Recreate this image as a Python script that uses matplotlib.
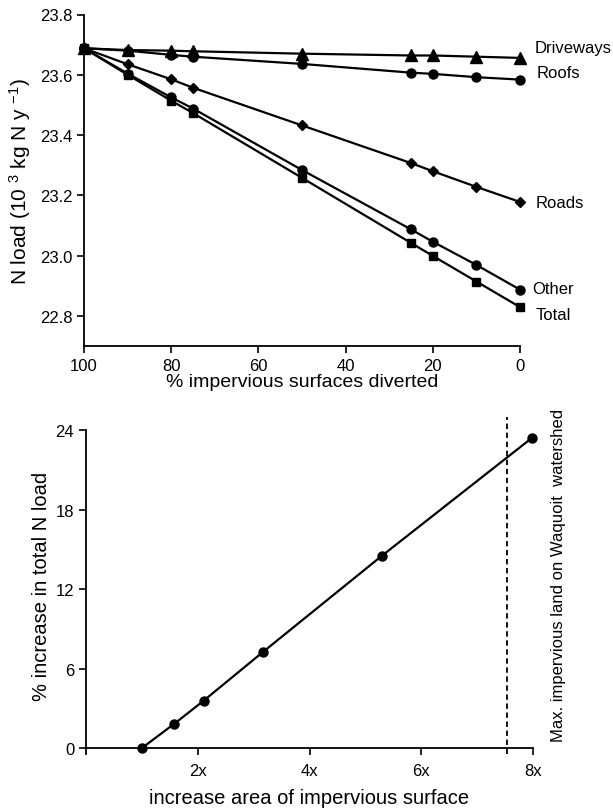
import matplotlib
matplotlib.use("Agg")
import matplotlib.pyplot as plt

plt.rcParams['font.family'] = ['Liberation Sans', 'DejaVu Sans']
plt.rcParams['mathtext.fontset'] = 'custom'
plt.rcParams['mathtext.rm'] = 'Liberation Sans'
plt.rcParams['mathtext.it'] = 'Liberation Sans'

# ---- top panel data ----
pct_diverted = [100, 90, 80, 75, 50, 25, 20, 10, 0]
driveways = [23.688, 23.682, 23.680, 23.678, 23.670, 23.664, 23.664, 23.660, 23.656]
roofs = [23.688, 23.680, 23.666, 23.660, 23.636, 23.607, 23.603, 23.592, 23.584]
roads = [23.688, 23.635, 23.585, 23.557, 23.432, 23.307, 23.280, 23.228, 23.178]
other = [23.688, 23.604, 23.525, 23.488, 23.284, 23.087, 23.046, 22.969, 22.887]
total = [23.688, 23.600, 23.514, 23.473, 23.258, 23.042, 22.999, 22.914, 22.829]
series_names = ["Driveways", "Roofs", "Roads", "Other", "Total"]

# ---- bottom panel data ----
area_increase = [1.0, 1.58, 2.11, 3.16, 5.29, 7.99]
pct_increase = [0.0, 1.83, 3.59, 7.23, 14.5, 23.45]
max_impervious = 7.54
x_ticks = [2, 4, 6, 8]
x_ticklabels = ["2x", "4x", "6x", "8x"]
y_ticks = [0, 6, 12, 18, 24]

fig = plt.figure(figsize=(6.13, 8.12), dpi=100)

ax1 = fig.add_axes([84/613, 1-347/812, (520-84)/613, (347-15.5)/812])
styles = [('^', 8), ('o', 6.5), ('D', 5), ('o', 6.5), ('s', 6)]
for ys, (m, ms) in zip([driveways, roofs, roads, other, total], styles):
    ax1.plot(pct_diverted, ys, color='black', lw=1.6, marker=m, ms=ms, clip_on=False, zorder=3)
ax1.set_xlim(100, 0)
ax1.set_ylim(22.7, 23.8)
ax1.set_xticks([100, 80, 60, 40, 20, 0])
ax1.set_yticks([22.8, 23.0, 23.2, 23.4, 23.6, 23.8])
ax1.set_yticklabels(["22.8", "23.0", "23.2", "23.4", "23.6", "23.8"])
for s in ['top', 'right']:
    ax1.spines[s].set_visible(False)
for s in ['left', 'bottom']:
    ax1.spines[s].set_linewidth(1.3)
ax1.tick_params(direction='out', length=5, width=1.2, labelsize=12)
ax1.set_xlabel("% impervious surfaces diverted", fontsize=14, labelpad=0)
ax1.set_ylabel(r"N load (10 $^{3}$ kg N y $^{-1}$)", fontsize=15, labelpad=5)

label_pos = [(535, 48, "Driveways"), (537, 73, "Roofs"), (536, 204, "Roads"), (532, 289, "Other"), (536, 315, "Total")]
for x, y, t in label_pos:
    fig.text(x/613, 1-y/812, t, fontsize=12, va='center', ha='left')

ax2 = fig.add_axes([86/613, 1-755/812, (533-86)/613, (755-418)/812])
ax2.plot(area_increase, pct_increase, color='black', lw=1.6, marker='o', ms=6.5, clip_on=False, zorder=3)
ax2.axvline(max_impervious, color='black', lw=1.3, ls=(0, (3, 2)))
ax2.set_xlim(0, 8)
ax2.set_ylim(-0.45, 25)
ax2.set_xticks(x_ticks)
ax2.set_xticklabels(x_ticklabels)
ax2.set_yticks(y_ticks)
for s in ['top', 'right']:
    ax2.spines[s].set_visible(False)
for s in ['left', 'bottom']:
    ax2.spines[s].set_linewidth(1.3)
ax2.spines['bottom'].set_position(('data', 0))
ax2.spines['left'].set_bounds(-0.45, 24)
ax2.tick_params(direction='out', length=5, width=1.2, labelsize=12)
ax2.tick_params(axis='x', pad=6)
ax2.set_xlabel("increase area of impervious surface", fontsize=14.5, labelpad=7)
ax2.set_ylabel("% increase in total N load", fontsize=14.5, labelpad=3)
fig.text(558/613, 1-575/812, "Max. impervious land on Waquoit  watershed", rotation=90,
         fontsize=12, va='center', ha='center')

fig.savefig("out.png", dpi=100)
